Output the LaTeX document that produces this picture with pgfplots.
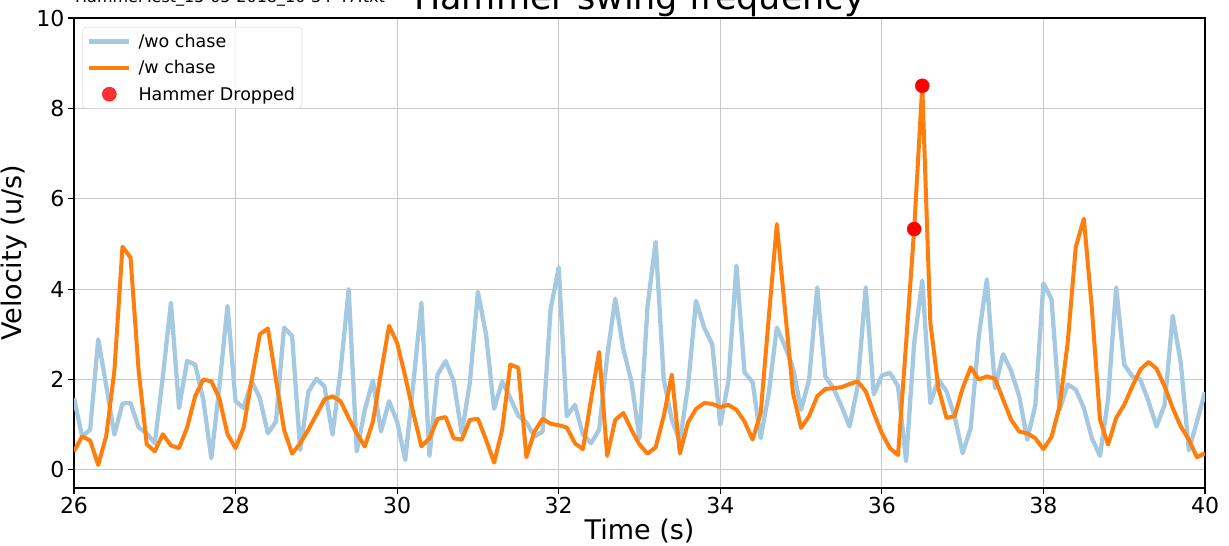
\documentclass[border=0pt]{standalone}
\usepackage{fontspec}
\setmainfont{DejaVu Sans}
\usepackage{pgfplots}
\usepackage{pgfplotstable}
\pgfplotsset{compat=1.18}
\definecolor{woblue}{RGB}{165,201,225}
\definecolor{worange}{RGB}{255,127,14}
\definecolor{gridc}{RGB}{200,200,200}

\pgfplotstableread{
t v
26.0 1.59
26.1 0.74
26.2 0.89
26.3 2.89
26.4 1.85
26.5 0.78
26.6 1.47
26.7 1.48
26.8 0.94
26.9 0.81
27.0 0.59
27.1 2.07
27.2 3.70
27.3 1.37
27.4 2.41
27.5 2.33
27.6 1.56
27.7 0.26
27.8 1.85
27.9 3.63
28.0 1.52
28.1 1.37
28.2 1.96
28.3 1.59
28.4 0.81
28.5 1.07
28.6 3.15
28.7 2.96
28.8 0.44
28.9 1.72
29.0 2.02
29.1 1.85
29.2 0.78
29.3 2.2
29.4 4.0
29.5 0.41
29.6 1.33
29.7 1.98
29.8 0.85
29.9 1.52
30.0 1.07
30.1 0.22
30.2 1.9
30.3 3.70
30.4 0.31
30.5 2.11
30.6 2.41
30.7 1.96
30.8 0.81
30.9 1.93
31.0 3.94
31.1 3.0
31.2 1.35
31.3 1.96
31.4 1.59
31.5 1.20
31.6 1.05
31.7 0.74
31.8 0.85
31.9 3.56
32.0 4.48
32.1 1.19
32.2 1.44
32.3 0.78
32.4 0.59
32.5 0.89
32.6 2.52
32.7 3.79
32.8 2.67
32.9 1.96
33.0 0.70
33.1 3.63
33.2 5.05
33.3 2.0
33.4 1.11
33.5 0.63
33.6 1.85
33.7 3.74
33.8 3.15
33.9 2.78
34.0 1.0
34.1 1.96
34.2 4.52
34.3 2.16
34.4 1.94
34.5 0.70
34.6 1.70
34.7 3.15
34.8 2.74
34.9 2.26
35.0 1.33
35.1 2.0
35.2 4.04
35.3 2.07
35.4 1.81
35.5 1.41
35.6 0.96
35.7 1.85
35.8 4.04
35.9 1.67
36.0 2.09
36.1 2.15
36.2 1.85
36.3 0.19
36.4 2.81
36.5 4.19
36.6 1.48
36.7 2.0
36.8 1.74
36.9 1.19
37.0 0.37
37.1 0.93
37.2 2.96
37.3 4.22
37.4 1.81
37.5 2.56
37.6 2.19
37.7 1.63
37.8 0.67
37.9 1.44
38.0 4.13
38.1 3.78
38.2 1.33
38.3 1.89
38.4 1.78
38.5 1.37
38.6 0.70
38.7 0.31
38.8 1.56
38.9 4.04
39.0 2.33
39.1 2.07
39.2 2.0
39.3 1.52
39.4 0.96
39.5 1.44
39.6 3.41
39.7 2.37
39.8 0.43
39.9 1.07
40.0 1.72
}\wochase

\pgfplotstableread{
t v
26.0 0.41
26.1 0.74
26.2 0.65
26.3 0.11
26.4 0.76
26.5 2.19
26.6 4.94
26.7 4.70
26.8 2.2
26.9 0.57
27.0 0.41
27.1 0.79
27.2 0.54
27.3 0.48
27.4 0.94
27.5 1.63
27.6 2.0
27.7 1.96
27.8 1.58
27.9 0.79
28.0 0.48
28.1 0.94
28.2 2.0
28.3 3.0
28.4 3.13
28.5 2.0
28.6 0.89
28.7 0.36
28.8 0.59
28.9 0.89
29.0 1.22
29.1 1.56
29.2 1.63
29.3 1.52
29.4 1.15
29.5 0.81
29.6 0.52
29.7 1.07
29.8 2.15
29.9 3.19
30.0 2.81
30.1 2.07
30.2 1.26
30.3 0.52
30.4 0.70
30.5 1.13
30.6 1.17
30.7 0.70
30.8 0.67
30.9 1.11
31.0 1.13
31.1 0.67
31.2 0.16
31.3 0.89
31.4 2.33
31.5 2.26
31.6 0.28
31.7 0.85
31.8 1.13
31.9 1.02
32.0 0.99
32.1 0.94
32.2 0.59
32.3 0.46
32.4 1.56
32.5 2.61
32.6 0.31
32.7 1.11
32.8 1.26
32.9 0.89
33.0 0.56
33.1 0.36
33.2 0.50
33.3 1.19
33.4 2.11
33.5 0.36
33.6 1.05
33.7 1.35
33.8 1.48
33.9 1.46
34.0 1.39
34.1 1.44
34.2 1.33
34.3 1.07
34.4 0.67
34.5 1.26
34.6 3.37
34.7 5.44
34.8 3.56
34.9 1.70
35.0 0.93
35.1 1.19
35.2 1.63
35.3 1.79
35.4 1.81
35.5 1.83
35.6 1.90
35.7 1.96
35.8 1.74
35.9 1.26
36.0 0.81
36.1 0.48
36.2 0.33
36.3 2.8
36.4 5.33
36.5 8.50
36.6 3.26
36.7 1.81
36.8 1.15
36.9 1.19
37.0 1.81
37.1 2.27
37.2 2.0
37.3 2.07
37.4 2.02
37.5 1.56
37.6 1.11
37.7 0.85
37.8 0.81
37.9 0.70
38.0 0.46
38.1 0.73
38.2 1.41
38.3 2.81
38.4 4.93
38.5 5.56
38.6 3.56
38.7 1.11
38.8 0.56
38.9 1.15
39.0 1.44
39.1 1.85
39.2 2.22
39.3 2.39
39.4 2.24
39.5 1.85
39.6 1.37
39.7 0.96
39.8 0.67
39.9 0.28
40.0 0.37
}\wchase

\pgfplotstableread{
t v
36.4 5.33
36.5 8.50
}\dropped

\begin{document}
\begin{tikzpicture}
\begin{axis}[
  name=ax,
  scale only axis,
  width=1131pt, height=470pt,
  xmin=26, xmax=40, ymin=-0.4, ymax=10,
  xtick={26,28,...,40}, ytick={0,2,...,10},
  grid=major,
  grid style={gridc, line width=1pt},
  axis line style={black, line width=1.1pt},
  tick align=outside,
  major tick length=6pt,
  tick style={black, line width=1.1pt},
  xtick pos=bottom, ytick pos=left,
  /pgf/number format/assume math mode=true,
  ticklabel style={font=\fontsize{22}{26}\selectfont},
  xlabel={Time (s)}, ylabel={Velocity (u/s)},
  label style={font=\fontsize{27}{32}\selectfont},
  xlabel style={at={(axis description cs:0.5,0)}, anchor=base, yshift=-51pt},
  ylabel style={at={(axis description cs:0,0.5)}, anchor=base, yshift=52pt},
  legend cell align=left,
  legend style={at={(0,1)}, anchor=north west, xshift=8pt, yshift=-9pt,
    draw=black!18, rounded corners=4pt, fill=white, fill opacity=0.8, text opacity=1,
    font=\fontsize{17.5}{20}\selectfont, inner xsep=5pt, inner ysep=5pt,
    row sep=7.5pt,
    /tikz/every odd column/.append style={column sep=5pt}},
]
\addplot[woblue, line width=4.3pt, line join=round,
  legend image code/.code={\draw[woblue, line width=4.3pt] (0pt,0pt) -- (40pt,0pt);}]
  table[x=t,y=v] {\wochase};
\addlegendentry{/wo chase}
\addplot[worange, line width=4pt, line join=round,
  legend image code/.code={\draw[worange, line width=4pt] (0pt,0pt) -- (40pt,0pt);}]
  table[x=t,y=v] {\wchase};
\addlegendentry{/w chase}
\addplot[only marks, mark=*, mark size=7pt, red, mark options={draw=red, fill=red},
  legend image code/.code={\fill[red] (20pt,0pt) circle (7pt);}]
  table[x=t,y=v] {\dropped};
\addlegendentry{Hammer Dropped}
\end{axis}
\node[anchor=base, font=\fontsize{35}{40}\selectfont] at ([yshift=8.7pt]ax.north) {Hammer swing frequency};
\node[anchor=base west, inner sep=0pt, font=\fontsize{16}{19}\selectfont] at ([xshift=1pt,yshift=15.3pt]ax.north west) {HammerTest\_15-05-2018\_10-34-47.txt};
\pgfresetboundingbox
\useasboundingbox ([xshift=-74pt,yshift=-57pt]ax.south west) rectangle ([xshift=24pt,yshift=18pt]ax.north east);
\end{tikzpicture}
\end{document}
